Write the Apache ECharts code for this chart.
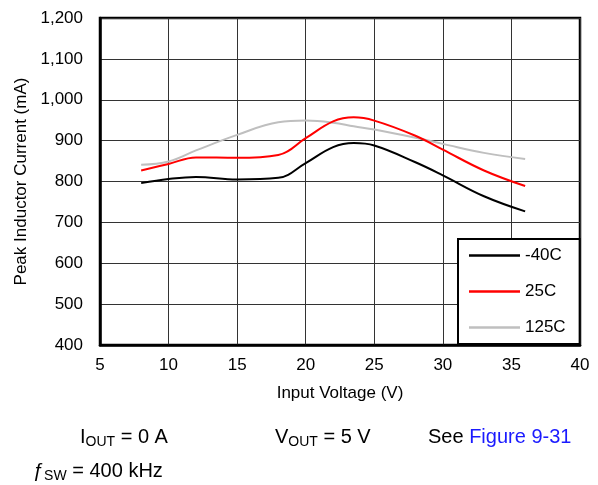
<!DOCTYPE html>
<html>
<head>
<meta charset="utf-8">
<script src="https://cdn.jsdelivr.net/npm/echarts@6/dist/echarts.min.js"></script>
<style>
html,body{margin:0;padding:0;background:#fff;}
#c{width:598px;height:485px;}
</style>
</head>
<body>
<div id="c"></div>
<script>
// Input voltage (V)
var vin = [8, 10, 12, 15, 18, 20, 22, 23.5, 25, 28, 30, 33, 36];
// Peak inductor current (mA)
var iMinus40 = [796, 806, 811, 805, 809, 845, 884, 894, 888, 847, 815, 764, 727];
var i25 = [827, 843, 859, 858, 865, 906, 947, 957, 949, 912, 878, 827, 789];
var i125 = [841, 849, 876, 914, 945, 949, 944, 935, 927, 907, 892, 870, 855];
var seriesNames = ['-40C', '25C', '125C'];
var seriesColors = ['#000000', '#ff0000', '#bfbfbf'];
var xTicks = [5, 10, 15, 20, 25, 30, 35, 40];
var yTicks = [400, 500, 600, 700, 800, 900, 1000, 1100, 1200];

function pairs(xs, ys) { return xs.map(function (x, i) { return [x, ys[i]]; }); }
var allData = [iMinus40, i25, i125];

var FONT = 'Liberation Sans, Arial, Helvetica, sans-serif';
var rich = {
  m: { fontSize: 20, lineHeight: 24, color: '#000', fontFamily: FONT, fontWeight: 'normal' },
  s: { fontSize: 14, lineHeight: 12, verticalAlign: 'bottom', color: '#000', fontFamily: FONT, fontWeight: 'normal' },
  b: { fontSize: 20, lineHeight: 24, color: '#1a1aff', fontFamily: FONT, fontWeight: 'normal' }
};
function cap(text, left, top) {
  return { text: text, left: left, top: top, padding: 0, textStyle: { fontWeight: 'normal', rich: rich } };
}

var chart = echarts.init(document.getElementById('c'));
chart.setOption({
  animation: false,
  backgroundColor: '#fff',
  textStyle: { fontFamily: FONT },
  title: [
    cap('{m|I}{s|OUT}{m| = 0 A}', 80, 425),
    cap('{m|V}{s|OUT}{m| = 5 V}', 275, 425),
    cap('{m|See }{b|Figure 9-31}', 428, 425),
    cap('{m|ƒ}{s|SW}{m| = 400 kHz}', 33, 459)
  ],
  grid: { left: 100, right: 18, top: 18, bottom: 140, show: true, borderColor: '#000', borderWidth: 2.5, backgroundColor: 'transparent', containLabel: false },
  legend: {
    orient: 'vertical',
    left: 458, top: 239,
    padding: [8, 14, 8, 11],
    itemWidth: 51, itemHeight: 2.5, itemGap: 19,
    icon: 'rect',
    backgroundColor: '#fff',
    borderColor: '#000', borderWidth: 2, borderRadius: 0,
    textStyle: { fontSize: 17, color: '#000', fontFamily: FONT, padding: [0, 0, 0, 0] },
    data: seriesNames
  },
  xAxis: {
    type: 'value', min: xTicks[0], max: xTicks[xTicks.length - 1], interval: 5,
    name: 'Input Voltage (V)', nameLocation: 'middle', nameGap: 40,
    nameTextStyle: { fontSize: 17, color: '#000', fontFamily: FONT },
    axisLine: { show: true, lineStyle: { color: '#000', width: 2.5 } },
    axisTick: { show: false },
    axisLabel: { fontSize: 17, color: '#000', margin: 12, fontFamily: FONT },
    splitLine: { show: true, lineStyle: { color: '#333', width: 1 } }
  },
  yAxis: {
    type: 'value', min: yTicks[0], max: yTicks[yTicks.length - 1], interval: 100,
    name: 'Peak Inductor Current (mA)', nameLocation: 'middle', nameGap: 66,
    nameTextStyle: { fontSize: 17, color: '#000', fontFamily: FONT },
    axisLine: { show: true, lineStyle: { color: '#000', width: 2.5 } },
    axisTick: { show: false },
    axisLabel: {
      fontSize: 17, color: '#000', margin: 17, fontFamily: FONT,
      formatter: function (v) { return v.toString().replace(/\B(?=(\d{3})+(?!\d))/g, ','); }
    },
    splitLine: { show: true, lineStyle: { color: '#333', width: 1 } }
  },
  series: seriesNames.map(function (n, k) {
    return {
      name: n, type: 'line', smooth: 0.4, showSymbol: false,
      data: pairs(vin, allData[k]),
      lineStyle: { color: seriesColors[k], width: 2 },
      itemStyle: { color: seriesColors[k] },
      z: 3 - k
    };
  })
});
</script>
</body>
</html>
